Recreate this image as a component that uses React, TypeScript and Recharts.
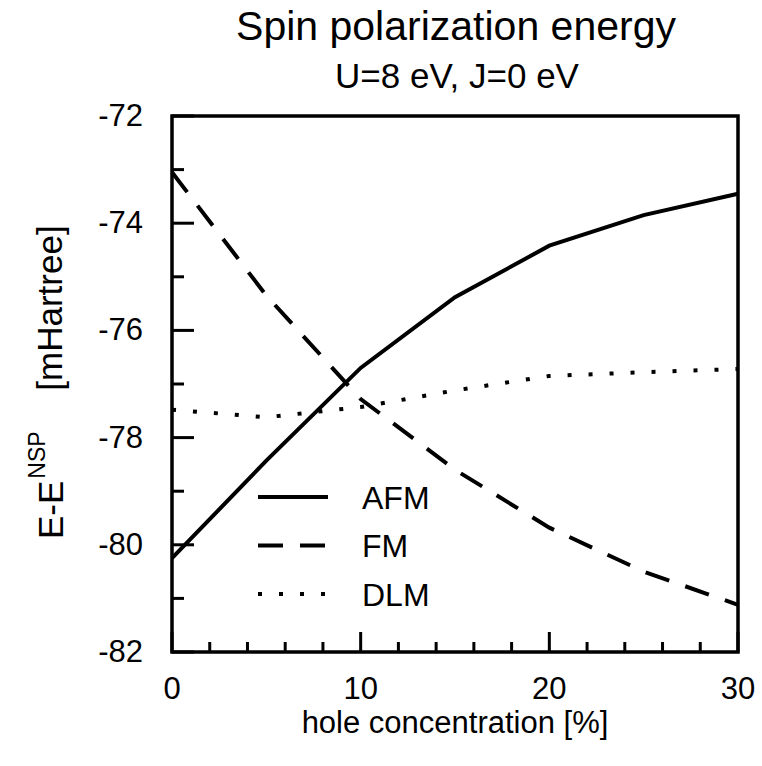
import React from 'react';
import { LineChart, Line, XAxis, YAxis, ReferenceArea } from 'recharts';

const holeConcentration = [0, 5, 10, 15, 20, 25, 30];
const afmEnergy = [-80.25, -78.43, -76.7, -75.38, -74.42, -73.85, -73.45];
const fmEnergy = [-73.05, -75.35, -77.28, -78.6, -79.68, -80.5, -81.12];
const dlmEnergy = [-77.48, -77.62, -77.43, -77.12, -76.85, -76.78, -76.72];

const xTicks = [0, 2, 4, 6, 8, 10, 12, 14, 16, 18, 20, 22, 24, 26, 28, 30];
const yTicks = [-82, -81, -80, -79, -78, -77, -76, -75, -74, -73, -72];
const xLabelTicks = [0, 10, 20, 30];
const yLabelTicks = [-82, -80, -78, -76, -74, -72];

const seriesNames = ['AFM', 'FM', 'DLM'];
const seriesDash = ['', '25 17', '4 17'];

const title = 'Spin polarization energy';
const subtitle = 'U=8 eV, J=0 eV';
const xTitle = 'hole concentration [%]';
const yTitleMain = 'E-E';
const yTitleSup = 'NSP';
const yTitleUnit = '[mHartree]';

const FONT = '"Liberation Sans", Arial, Helvetica, sans-serif';

const data = holeConcentration.map((x, i) => ({
  x,
  AFM: afmEnergy[i],
  FM: fmEnergy[i],
  DLM: dlmEnergy[i],
}));

const XTick = (props: any) => {
  const { x, y, payload } = props;
  const v = payload.value;
  const major = xLabelTicks.includes(v);
  return (
    <g>
      <line x1={x} x2={x} y1={y} y2={y - (major ? 20 : 10)} stroke="#000" strokeWidth={3} />
      {major && (
        <text x={x} y={y + 47} textAnchor="middle" fontSize={31} fontFamily={FONT} fill="#000">
          {v}
        </text>
      )}
    </g>
  );
};

const YTick = (props: any) => {
  const { x, y, payload } = props;
  const v = payload.value;
  const major = yLabelTicks.includes(v);
  return (
    <g>
      <line x1={x} x2={x + (major ? 22 : 12)} y1={y} y2={y} stroke="#000" strokeWidth={3} />
      {major && (
        <text x={x - 29} y={y + 10} textAnchor="end" fontSize={31} fontFamily={FONT} fill="#000">
          {v}
        </text>
      )}
    </g>
  );
};

export default function App() {
  return (
    <div style={{ position: 'absolute', left: 0, top: 0, width: 762, height: 766, background: '#fff' }}>
      <LineChart
        width={762}
        height={766}
        data={data}
        margin={{ top: 116, right: 24, bottom: 84, left: 112 }}
      >
        <XAxis
          type="number"
          dataKey="x"
          domain={[0, 30]}
          ticks={xTicks}
          interval={0}
          height={30}
          tickSize={0}
          tickMargin={0}
          tickLine={false}
          axisLine={false}
          tick={<XTick />}
        />
        <YAxis
          type="number"
          domain={[-82, -72]}
          ticks={yTicks}
          interval={0}
          width={60}
          tickSize={0}
          tickMargin={0}
          tickLine={false}
          axisLine={false}
          tick={<YTick />}
        />
        <ReferenceArea
          x1={0}
          x2={30}
          y1={-82}
          y2={-72}
          fill="none"
          fillOpacity={0}
          stroke="#000"
          strokeWidth={3.5}
          ifOverflow="visible"
        />
        {seriesNames.map((name, i) => (
          <Line
            key={name}
            type="linear"
            dataKey={name}
            stroke="#000"
            strokeWidth={4}
            strokeDasharray={seriesDash[i] || undefined}
            strokeLinecap="butt"
            dot={false}
            activeDot={false}
            isAnimationActive={false}
          />
        ))}
      </LineChart>
      <svg
        width={762}
        height={766}
        style={{ position: 'absolute', left: 0, top: 0, pointerEvents: 'none' }}
        fontFamily={FONT}
      >
        <text x={456} y={40} textAnchor="middle" fontSize={41} fill="#000">
          {title}
        </text>
        <text x={457} y={88} textAnchor="middle" fontSize={35} fill="#000">
          {subtitle}
        </text>
        <text x={455} y={733} textAnchor="middle" fontSize={31} fill="#000">
          {xTitle}
        </text>
        <g transform="translate(63,539) rotate(-90)">
          <text x={0} y={0} textAnchor="start" fontSize={35} fill="#000">
            {yTitleMain}
            <tspan dx={2} dy={-18} fontSize={23}>{yTitleSup}</tspan>
          </text>
        </g>
        <g transform="translate(62,308) rotate(-90)">
          <text x={0} y={0} textAnchor="middle" fontSize={35} fill="#000">
            {yTitleUnit}
          </text>
        </g>
        {seriesNames.map((name, i) => (
          <g key={name}>
            <line
              x1={258}
              x2={328}
              y1={497 + i * 48.5}
              y2={497 + i * 48.5}
              stroke="#000"
              strokeWidth={4}
              strokeDasharray={seriesDash[i] || undefined}
            />
            <text x={362} y={497 + i * 48.5 + 11.5} fontSize={32} fill="#000">
              {name}
            </text>
          </g>
        ))}
      </svg>
    </div>
  );
}
